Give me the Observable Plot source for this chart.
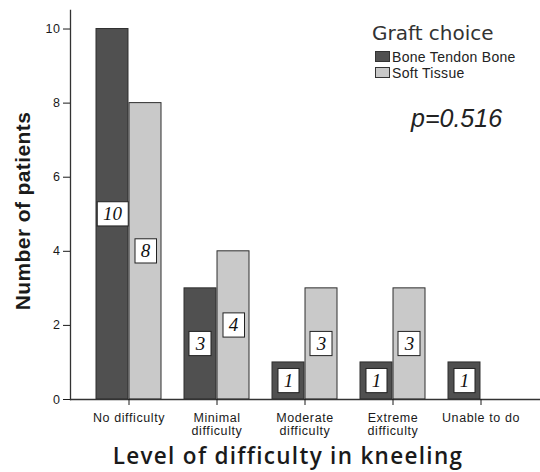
<!DOCTYPE html>
<html>
<head>
<meta charset="utf-8">
<script src="https://cdn.jsdelivr.net/npm/d3@7"></script>
<script src="https://cdn.jsdelivr.net/npm/@observablehq/plot@0.6"></script>
<style>
  html, body { margin: 0; padding: 0; background: #fff; overflow: hidden; }
  #wrap { position: relative; width: 540px; height: 472px; font-family: "Liberation Sans", Arial, sans-serif; color: #222; }
  #wrap svg { position: absolute; left: 0; top: 0; }
  g[aria-label="y-axis label"] text { font-size: 21px; font-weight: bold; fill: #1a1a1a; font-family: "Liberation Sans", Arial, sans-serif; letter-spacing: 0.4px; }
  .abs { position: absolute; white-space: nowrap; }
  .xtitle { left: 34px; width: 508px; top: 443px; text-align: center; font-family: "Open Sans", sans-serif; font-weight: 600; font-size: 22.5px; line-height: 25px; letter-spacing: 1.3px; color: #1a1a1a; }
  .lgtitle { left: 372px; top: 21px; font-family: "DejaVu Sans", sans-serif; font-size: 20px; line-height: 24px; color: #333; }
  .lgrow { left: 375px; font-size: 14px; line-height: 16px; color: #222; letter-spacing: 0.3px; }
  .sw { display: inline-block; width: 13px; height: 9px; border: 1px solid #333; vertical-align: 0px; margin-right: 2px; }
  .pval { left: 411px; top: 103px; font-style: italic; font-size: 25px; line-height: 30px; color: #222; }
</style>
</head>
<body>
<div id="wrap"></div>
<script>
const categories = ["No difficulty", "Minimal difficulty", "Moderate difficulty", "Extreme difficulty", "Unable to do"];
const tickLabels = ["No difficulty", "Minimal\ndifficulty", "Moderate\ndifficulty", "Extreme\ndifficulty", "Unable to do"];
const grafts = ["Bone Tendon Bone", "Soft Tissue"];
const boneTendonBone = [10, 3, 1, 1, 1];
const softTissue = [8, 4, 3, 3, 0];
const yTicks = [0, 2, 4, 6, 8, 10];
const colors = ["#505050", "#c9c9c9"];
const pValue = "p=0.516";
const xTitle = "Level of difficulty in kneeling";
const yTitle = "Number of patients";
const legendTitle = "Graft choice";

const rows = [];
categories.forEach((c, i) => {
  rows.push({category: c, graft: grafts[0], count: boneTendonBone[i]});
  rows.push({category: c, graft: grafts[1], count: softTissue[i]});
});

const W = 540, H = 440, mL = 70, mR = 0, mT = 10, mB = 41;
const xOpts = {type: "band", domain: categories, paddingInner: 0.258, paddingOuter: 0.27, align: 0.5};
const xs = Plot.scale({x: {...xOpts, range: [mL, W - mR]}});
const bw = xs.bandwidth;

const btbRows = rows.filter(d => d.graft === grafts[0]);
const stRows = rows.filter(d => d.graft === grafts[1]);
const labelStyle = {fontFamily: "Liberation Serif, serif", fontStyle: "italic", fontSize: 19, fill: "#111"};

const plot = Plot.plot({
  width: W, height: H,
  marginLeft: mL, marginRight: mR, marginTop: mT, marginBottom: mB,
  style: {fontFamily: "Liberation Sans, Arial, sans-serif", background: "white", color: "#1a1a1a"},
  x: {...xOpts},
  y: {domain: [0, 10.5]},
  marks: [
    Plot.barY(btbRows, {x: "category", y: "count", fill: colors[0], stroke: "#2e2e2e", strokeWidth: 1, insetLeft: 0, insetRight: bw / 2}),
    Plot.barY(stRows.filter(d => d.count > 0), {x: "category", y: "count", fill: colors[1], stroke: "#2e2e2e", strokeWidth: 1, insetLeft: bw / 2, insetRight: 0}),
    Plot.text(btbRows.filter(d => d.count > 0), {x: "category", y: d => d.count / 2, text: d => String(d.count), dx: -bw / 4, ...labelStyle}),
    Plot.text(stRows.filter(d => d.count > 0), {x: "category", y: d => d.count / 2, text: d => String(d.count), dx: bw / 4, ...labelStyle}),
    Plot.ruleY([0], {stroke: "#333", strokeWidth: 1.3}),
    Plot.frame({anchor: "left", stroke: "#333", strokeWidth: 1.3}),
    Plot.axisY({ticks: yTicks, tickSize: 7, tickPadding: 3, fontSize: 12.5, label: yTitle, labelAnchor: "center", labelOffset: 55, labelArrow: "none"}),
    Plot.axisX({tickSize: 6, tickPadding: 8, fontSize: 12.5, lineHeight: 1, label: null, tickFormat: d => tickLabels[categories.indexOf(d)]})
  ]
});

const wrap = document.getElementById("wrap");
wrap.appendChild(plot);

// shift y title slightly downward (along its rotated direction)
d3.select(plot).selectAll('g[aria-label="y-axis label"] text').attr("dx", -6);

// white boxes behind value labels
d3.select(plot).selectAll('g[aria-label="text"] text').each(function() {
  const b = this.getBBox();
  const px = 5.75, py = 1.6;
  const t = this.getAttribute("transform");
  const r = document.createElementNS("http://www.w3.org/2000/svg", "rect");
  r.setAttribute("x", b.x - px);
  r.setAttribute("y", b.y - py);
  r.setAttribute("width", b.width + 2 * px);
  r.setAttribute("height", b.height + 2 * py);
  r.setAttribute("fill", "white");
  r.setAttribute("stroke", "#222");
  r.setAttribute("stroke-width", "1");
  if (t) r.setAttribute("transform", t);
  this.parentNode.insertBefore(r, this);
});

d3.select(plot).selectAll('g[aria-label="y-axis tick label"] text, g[aria-label="x-axis tick label"] text').style("letter-spacing", "0.6px");

// overlay texts
const add = (cls, html, style) => {
  const el = document.createElement("div");
  el.className = "abs " + cls;
  el.innerHTML = html;
  if (style) Object.assign(el.style, style);
  wrap.appendChild(el);
};
add("lgtitle", legendTitle);
grafts.forEach((g, i) => {
  add("lgrow", `<span class="sw" style="background:${colors[i]}"></span>${g}`, {top: (49 + i * 16) + "px"});
});
add("pval", pValue);
add("xtitle", xTitle);
</script>
</body>
</html>
